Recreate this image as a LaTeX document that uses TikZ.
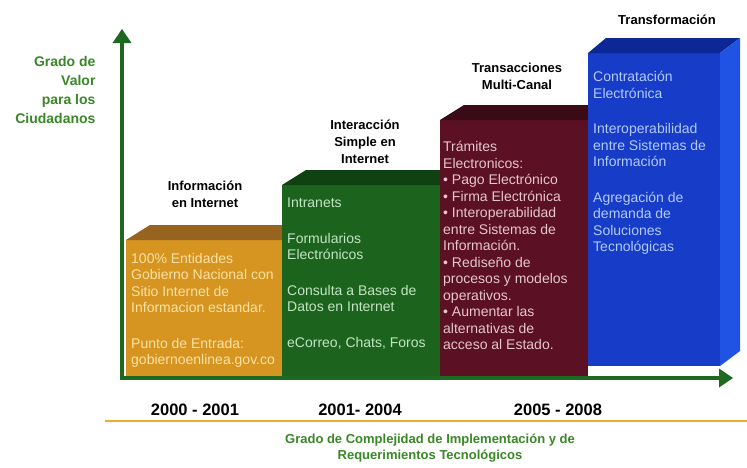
\documentclass[tikz,border=0pt]{standalone}
\usepackage{fontspec}
\setmainfont{Liberation Sans}
\usetikzlibrary{arrows.meta}

\definecolor{ejegreen}{RGB}{30,105,32}
\definecolor{labelgreen}{RGB}{58,135,40}
\definecolor{lineorange}{RGB}{232,172,50}
\definecolor{orangefront}{RGB}{214,148,32}
\definecolor{orangetop}{RGB}{150,100,30}
\definecolor{orangetext}{RGB}{252,226,165}
\definecolor{greenfront}{RGB}{28,100,30}
\definecolor{greentop}{RGB}{15,65,18}
\definecolor{greentext}{RGB}{195,228,195}
\definecolor{maroonfront}{RGB}{92,16,36}
\definecolor{maroontop}{RGB}{58,10,22}
\definecolor{maroontext}{RGB}{228,198,208}
\definecolor{bluefront}{RGB}{22,60,200}
\definecolor{bluetop}{RGB}{12,40,150}
\definecolor{blueside}{RGB}{32,82,228}
\definecolor{bluetext}{RGB}{178,202,255}

% bloque: x izq, x der, y frente, color frente, color tapa
\newcommand{\bloque}[5]{%
  \fill[#4] (#1,#3) rectangle (#2,376);
  \fill[#5] (#1,#3) -- ({#1+24},{#3-15}) -- ({#2+24},{#3-15}) -- (#2,#3) -- cycle;}

\begin{document}
\begin{tikzpicture}[x=1pt, y=-1pt,
    >={Triangle[width=19pt,length=14pt,line width=0pt]},
    eje/.style={line width=4pt, draw=ejegreen},
    titulo/.style={align=center, font=\bfseries\fontsize{13}{17}\selectfont},
    texto/.style={anchor=north west, inner sep=0pt, align=left, text=#1,
      font=\fontsize{14}{16.5}\selectfont},
    anio/.style={font=\bfseries\fontsize{16.5}{19}\selectfont}]
  \fill[white] (0,0) rectangle (747,467);
  \useasboundingbox (0,0) rectangle (747,467);

  % bloques
  \bloque{126}{282}{240}{orangefront}{orangetop}
  \bloque{282}{440}{185}{greenfront}{greentop}
  \bloque{440}{588}{120}{maroonfront}{maroontop}
  \fill[bluefront] (588,53) rectangle (720,366);
  \fill[bluetop] (588,53) -- (606,38) -- (740,38) -- (720,53) -- cycle;
  \fill[blueside] (720,53) -- (740,38) -- (740,351) -- (720,366) -- cycle;

  % ejes
  \coordinate (O) at (122,378);
  \coordinate (Y) at (122,29);
  \coordinate (X) at (733,378);
  \draw[eje, <->] (Y) -- (O) -- (X);

  % textos de los bloques
  \node[texto=orangetext] (t1) at (131,253) {100\% Entidades\\Gobierno Nacional con\\Sitio Internet de\\Informacion estandar.\\[19pt]Punto de Entrada:\\gobiernoenlinea.gov.co};
  \node[texto=greentext] (t2) at (287,198) {Intranets\\[19pt]Formularios\\Electrónicos\\[19pt]Consulta a Bases de\\Datos en Internet\\[19pt]eCorreo, Chats, Foros};
  \node[texto=maroontext] (t3) at (443,141) {Trámites\\Electronicos:\\• Pago Electrónico\\• Firma Electrónica\\• Interoperabilidad\\entre Sistemas de\\Información.\\• Rediseño de\\procesos y modelos\\operativos.\\• Aumentar las\\alternativas de\\acceso al Estado.};
  \node[texto=bluetext] (t4) at (593,71) {Contratación\\Electrónica\\[19pt]Interoperabilidad\\entre Sistemas de\\Información\\[19pt]Agregación de\\demanda de\\Soluciones\\Tecnológicas};

  % titulos
  \node[titulo] (info) at (205,194) {Información\\en Internet};
  \node[titulo] (inter) at (365,142) {Interacción\\Simple en\\Internet};
  \node[titulo] (trans) at (517,76) {Transacciones\\Multi-Canal};
  \node[titulo] (transf) at (667,20) {Transformación};

  \node[anchor=east, align=right, text=labelgreen,
    font=\bfseries\fontsize{14}{19}\selectfont] (valor) at (99,90)
    {Grado de\\Valor\\para los\\Ciudadanos};

  % periodos
  \node[anio] (a1) at (195,410) {2000 - 2001};
  \node[anio] (a2) at (360,410) {2001- 2004};
  \node[anio] (a3) at (558,410) {2005 - 2008};
  \draw[lineorange, line width=1.2pt] (105,421) -- (747,421);

  \node[align=center, text=labelgreen, font=\bfseries\fontsize{13}{16}\selectfont]
    (compl) at (430,448) {Grado de Complejidad de Implementación y de\\Requerimientos Tecnológicos};
\end{tikzpicture}
\end{document}
